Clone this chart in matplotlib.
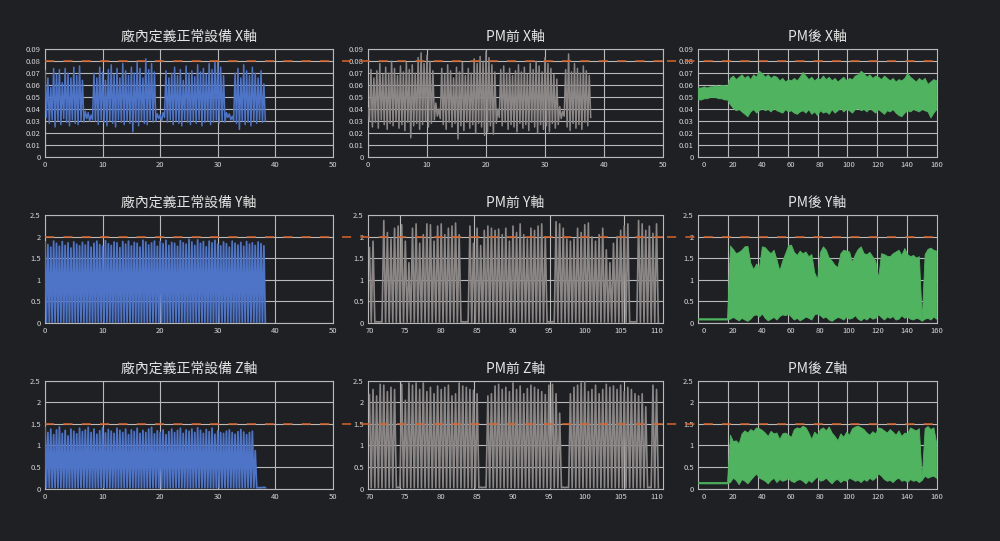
import numpy as np
import matplotlib
matplotlib.use("Agg")
import matplotlib.pyplot as plt
from matplotlib.ticker import FormatStrFormatter

plt.rcParams['font.family'] = ['Noto Sans CJK TC', 'DejaVu Sans']

# ---- data ----
# peaks (hi) and troughs (lo) every 0.5 s, starting at x = 0
normal_x_hi = [0.072, 0.066, 0.058, 0.074, 0.069, 0.073, 0.062, 0.074, 0.070, 0.066, 0.075, 0.068, 0.076, 0.064,
               0.038, 0.037, 0.035,
               0.070, 0.066, 0.075, 0.071, 0.064, 0.073, 0.077, 0.069, 0.074, 0.066, 0.078, 0.072, 0.068, 0.075,
               0.070, 0.079, 0.074, 0.066, 0.082, 0.073, 0.078, 0.071,
               0.036, 0.035, 0.037,
               0.072, 0.066, 0.070, 0.075, 0.068, 0.073, 0.064, 0.076, 0.070, 0.072, 0.067, 0.077, 0.071, 0.074,
               0.069, 0.078, 0.073, 0.080, 0.079, 0.075, 0.068,
               0.037, 0.036, 0.034,
               0.070, 0.074, 0.066, 0.077, 0.072, 0.068, 0.075, 0.070, 0.066, 0.072, 0.061]
normal_x_lo = [0.033, 0.028, 0.031, 0.025, 0.030, 0.027, 0.032, 0.029, 0.026, 0.031, 0.028, 0.027, 0.030, 0.029,
               0.032, 0.030, 0.031,
               0.030, 0.027, 0.031, 0.029, 0.026, 0.030, 0.028, 0.025, 0.031, 0.029, 0.027, 0.030, 0.028, 0.021,
               0.029, 0.026, 0.030, 0.028, 0.027, 0.031, 0.029, 0.030,
               0.032, 0.030, 0.033,
               0.029, 0.031, 0.027, 0.030, 0.028, 0.026, 0.031, 0.029, 0.027, 0.030, 0.028, 0.031, 0.026, 0.029,
               0.030, 0.027, 0.029, 0.031, 0.028, 0.030, 0.029,
               0.033, 0.031, 0.030,
               0.028, 0.023, 0.030, 0.027, 0.029, 0.026, 0.030, 0.028, 0.031, 0.029, 0.030]

pm_before_x_hi = [0.041, 0.073, 0.066, 0.072, 0.078, 0.069, 0.075, 0.070, 0.080, 0.074, 0.068, 0.076, 0.071, 0.079,
                  0.073, 0.077, 0.070, 0.083, 0.087, 0.078, 0.085, 0.080, 0.072,
                  0.045, 0.040,
                  0.074, 0.069, 0.077, 0.072, 0.066, 0.075, 0.071, 0.079, 0.068, 0.074, 0.070, 0.082, 0.078,
                  0.084, 0.080, 0.088, 0.083, 0.077, 0.071,
                  0.040,
                  0.073, 0.076, 0.070, 0.074, 0.068, 0.072, 0.077, 0.071, 0.075, 0.069, 0.078, 0.073, 0.080,
                  0.076, 0.071, 0.083, 0.078, 0.074, 0.069, 0.065,
                  0.042, 0.038,
                  0.073, 0.086, 0.071, 0.078, 0.074, 0.070, 0.076, 0.072, 0.068]
pm_before_x_lo = [0.030, 0.025, 0.029, 0.024, 0.031, 0.027, 0.023, 0.028, 0.026, 0.030, 0.024, 0.027, 0.022, 0.029,
                  0.016, 0.026, 0.028, 0.023, 0.027, 0.030, 0.025, 0.028, 0.031,
                  0.034, 0.032,
                  0.027, 0.023, 0.029, 0.025, 0.028, 0.015, 0.026, 0.022, 0.029, 0.024, 0.027, 0.020, 0.028,
                  0.025, 0.018, 0.021, 0.026, 0.019, 0.028,
                  0.033,
                  0.026, 0.029, 0.023, 0.027, 0.025, 0.021, 0.028, 0.024, 0.027, 0.022, 0.029, 0.025, 0.020,
                  0.027, 0.023, 0.026, 0.021, 0.028, 0.024, 0.027,
                  0.032, 0.034,
                  0.025, 0.022, 0.028, 0.024, 0.027, 0.023, 0.029, 0.026, 0.033]

# envelope every 2 s, starting at x = -4
pm_after_x_hi = [0.058, 0.058, 0.059, 0.058, 0.059, 0.059, 0.060, 0.059, 0.060, 0.060, 0.059,
                 0.066, 0.068, 0.065, 0.067, 0.069, 0.066, 0.068, 0.065, 0.069, 0.067, 0.072,
                 0.070, 0.067, 0.069, 0.066, 0.068, 0.067, 0.064, 0.066, 0.063, 0.065, 0.064,
                 0.066, 0.064, 0.067, 0.071, 0.068, 0.065, 0.067, 0.064, 0.066, 0.065, 0.068,
                 0.065, 0.067, 0.064, 0.066, 0.063, 0.065, 0.067, 0.064, 0.066, 0.065, 0.068,
                 0.069, 0.072, 0.070, 0.067, 0.069, 0.066, 0.068, 0.067, 0.065, 0.068, 0.066,
                 0.064, 0.066, 0.063, 0.065, 0.064, 0.066, 0.070, 0.067, 0.065, 0.063, 0.066,
                 0.064, 0.066, 0.061, 0.063, 0.065, 0.064]
pm_after_x_lo = [0.048, 0.048, 0.049, 0.049, 0.050, 0.050, 0.050, 0.049, 0.049, 0.048, 0.048,
                 0.044, 0.041, 0.039, 0.040, 0.038, 0.036, 0.034, 0.038, 0.040, 0.037, 0.039,
                 0.041, 0.039, 0.040, 0.038, 0.041, 0.039, 0.038, 0.037, 0.040, 0.038, 0.039,
                 0.037, 0.036, 0.038, 0.039, 0.037, 0.040, 0.036, 0.038, 0.035, 0.039, 0.037,
                 0.038, 0.036, 0.040, 0.037, 0.039, 0.041, 0.038, 0.040, 0.039, 0.037, 0.040,
                 0.041, 0.039, 0.040, 0.038, 0.041, 0.039, 0.037, 0.040, 0.038, 0.036, 0.039,
                 0.038, 0.040, 0.037, 0.035, 0.034, 0.037, 0.039, 0.038, 0.040, 0.039, 0.038,
                 0.040, 0.039, 0.038, 0.033, 0.037, 0.040]

# Y axis: peaks every 0.5 s, troughs sit near zero
normal_y_hi = [1.88, 1.82, 1.76, 1.90, 1.85, 1.78, 1.89, 1.80, 1.86, 1.74, 1.88, 1.83, 1.79, 1.87, 1.81, 1.89,
               1.76, 1.85, 1.90, 1.82, 1.78, 1.91, 1.84, 1.80, 1.88, 1.86, 1.75, 1.89, 1.83, 1.90, 1.79, 1.87,
               1.85, 1.76, 1.92, 1.88, 1.81, 1.86, 1.90, 1.78, 1.89, 1.84, 1.92, 1.80, 1.87, 1.85, 1.78, 1.91,
               1.86, 1.83, 1.94, 1.88, 1.80, 1.93, 1.85, 1.89, 1.77, 1.90, 1.86, 1.92, 1.83, 1.79, 1.88, 1.84,
               1.76, 1.90, 1.85, 1.81, 1.87, 1.78, 1.89, 1.83, 1.86, 1.80, 1.88, 1.84, 1.79]
normal_y_floor = 0.02

pm_before_y_hi = [1.75, 1.90, 0.03, 0.03, 2.38, 2.10, 1.95, 2.20, 2.25, 2.28, 1.90, 1.40, 2.20, 2.30, 1.85, 2.05,
                  2.30, 2.28, 1.90, 2.25, 2.30, 2.05, 2.20, 2.25, 2.32, 2.05, 0.03, 0.03, 2.25, 1.85, 2.20, 1.80,
                  2.15, 2.25, 2.20, 2.15, 2.18, 2.05, 2.20, 1.90, 2.25, 2.10, 2.30, 2.05, 1.95, 2.20, 2.15, 2.25,
                  2.30, 2.00, 0.03, 0.03, 2.35, 2.30, 2.20, 1.95, 1.90, 1.95, 2.20, 2.10, 2.28, 2.32, 2.00, 1.90,
                  2.05, 2.20, 1.70, 1.40, 1.85, 2.00, 2.15, 2.25, 2.30, 0.03, 0.03, 2.38, 2.30, 2.15, 2.25, 2.08,
                  2.30]
pm_before_y_floor = 0.02

pm_after_y_hi = [0.11, 0.11, 0.11, 0.11, 0.11, 0.11, 0.11, 0.11, 0.11, 0.11, 0.11,
                 1.80, 1.72, 1.62, 1.65, 1.70, 1.78, 1.79, 1.40, 1.25, 1.38, 1.30,
                 1.78, 1.76, 1.68, 1.62, 1.70, 1.48, 1.22, 1.45, 1.62, 1.80, 1.82,
                 1.65, 1.58, 1.68, 1.62, 1.66, 1.55, 1.60, 1.18, 1.02, 1.65, 1.78,
                 1.70, 1.52, 1.45, 1.35, 1.30, 1.62, 1.70, 1.68, 1.66, 1.42, 1.60,
                 1.72, 1.78, 1.62, 1.60, 1.65, 1.55, 1.45, 1.05, 1.62, 1.60, 1.56,
                 1.55, 1.62, 1.66, 1.70, 1.58, 1.74, 1.60, 1.55, 1.58, 1.52, 1.55,
                 0.10, 1.60, 1.72, 1.75, 1.70, 1.68]
pm_after_y_lo = [0.08, 0.08, 0.08, 0.08, 0.08, 0.08, 0.08, 0.08, 0.08, 0.08, 0.08,
                 0.10, 0.14, 0.10, 0.06, 0.12, 0.08, 0.05, 0.10, 0.18, 0.20, 0.15,
                 0.22, 0.12, 0.06, 0.10, 0.14, 0.08, 0.16, 0.20, 0.18, 0.22, 0.15,
                 0.08, 0.12, 0.06, 0.10, 0.15, 0.12, 0.08, 0.20, 0.22, 0.18, 0.12,
                 0.15, 0.08, 0.05, 0.10, 0.14, 0.12, 0.08, 0.15, 0.10, 0.12, 0.18,
                 0.10, 0.06, 0.12, 0.08, 0.15, 0.10, 0.12, 0.20, 0.14, 0.08, 0.15,
                 0.12, 0.16, 0.08, 0.10, 0.18, 0.12, 0.15, 0.10, 0.08, 0.12, 0.10,
                 0.05, 0.10, 0.12, 0.08, 0.15, 0.10]

# Z axis
normal_z_hi = [1.42, 1.30, 1.38, 1.25, 1.36, 1.43, 1.28, 1.35, 1.22, 1.38, 1.33, 1.27, 1.40, 1.32, 1.36, 1.42,
               1.30, 1.38, 1.26, 1.34, 1.41, 1.29, 1.37, 1.33, 1.28, 1.40, 1.35, 1.30, 1.38, 1.25, 1.36, 1.32,
               1.40, 1.28, 1.35, 1.30, 1.38, 1.42, 1.27, 1.34, 1.30, 1.36, 1.25, 1.32, 1.38, 1.30, 1.35, 1.40,
               1.28, 1.36, 1.33, 1.38, 1.30, 1.41, 1.35, 1.28, 1.37, 1.32, 1.40, 1.26, 1.34, 1.30, 1.28, 1.33,
               1.36, 1.30, 1.26, 1.32, 1.37, 1.31, 1.25, 1.30, 1.33, 0.88, 0.02, 0.02, 0.03]
normal_z_floor = 0.02

pm_before_z_hi = [2.18, 2.30, 2.15, 2.42, 2.40, 2.25, 2.35, 2.30, 0.03, 2.42, 2.05, 2.45, 2.40, 2.45, 2.30, 2.45,
                  2.25, 2.35, 2.20, 2.38, 2.30, 2.35, 2.40, 2.15, 2.20, 2.45, 2.38, 2.35, 2.30, 2.28, 2.20, 0.03,
                  0.03, 2.15, 2.20, 2.38, 2.42, 2.30, 2.35, 2.25, 2.45, 2.30, 2.38, 2.20, 2.32, 2.40, 2.35, 2.30,
                  2.25, 2.18, 2.40, 2.42, 2.20, 1.75, 0.03, 0.03, 2.20, 2.35, 2.40, 2.45, 2.48, 2.25, 2.30, 2.40,
                  2.20, 2.30, 2.42, 2.35, 2.38, 2.30, 2.40, 2.25, 2.35, 2.30, 2.20, 2.15, 2.20, 1.90, 0.03, 2.40,
                  2.30]
pm_before_z_floor = 0.02

pm_after_z_hi = [0.15, 0.15, 0.15, 0.15, 0.15, 0.15, 0.15, 0.15, 0.15, 0.15, 0.15,
                 1.25, 1.10, 1.12, 1.05, 1.28, 1.35, 1.30, 1.38, 1.34, 1.42, 1.40,
                 1.36, 1.30, 1.22, 1.34, 1.28, 1.30, 1.15, 1.28, 1.30, 1.25, 1.20,
                 1.38, 1.42, 1.40, 1.46, 1.42, 1.30, 1.15, 1.32, 1.25, 1.38, 1.42,
                 1.35, 1.44, 1.30, 1.22, 1.12, 1.28, 1.20, 1.32, 1.25, 1.40, 1.44,
                 1.46, 1.42, 1.38, 1.30, 1.25, 1.33, 1.28, 1.42, 1.40, 1.35, 1.30,
                 1.38, 1.32, 1.25, 1.35, 1.22, 1.30, 1.28, 1.42, 1.38, 1.35, 1.40,
                 0.25, 1.40, 1.45, 1.38, 1.42, 1.05]
pm_after_z_lo = [0.12, 0.12, 0.12, 0.12, 0.12, 0.12, 0.12, 0.12, 0.12, 0.12, 0.12,
                 0.15, 0.25, 0.20, 0.10, 0.22, 0.18, 0.12, 0.20, 0.28, 0.35, 0.25,
                 0.22, 0.18, 0.12, 0.20, 0.25, 0.15, 0.22, 0.18, 0.20, 0.25, 0.18,
                 0.15, 0.20, 0.22, 0.18, 0.12, 0.20, 0.15, 0.22, 0.28, 0.18, 0.20,
                 0.25, 0.18, 0.12, 0.20, 0.22, 0.15, 0.20, 0.18, 0.25, 0.22, 0.18,
                 0.20, 0.15, 0.22, 0.18, 0.25, 0.20, 0.25, 0.35, 0.30, 0.22, 0.18,
                 0.20, 0.15, 0.22, 0.25, 0.18, 0.20, 0.15, 0.22, 0.18, 0.20, 0.15,
                 0.20, 0.30, 0.25, 0.28, 0.30, 0.25]

titles = [["廠內定義正常設備 X軸", "PM前 X軸", "PM後 X軸"],
          ["廠內定義正常設備 Y軸", "PM前 Y軸", "PM後 Y軸"],
          ["廠內定義正常設備 Z軸", "PM前 Z軸", "PM後 Z軸"]]
limits = [0.08, 2.0, 1.5]

BG = '#1e2023'
GRID = '#b9b9b9'
TXT = '#d6d6d6'
BLUE = '#4e74c8'
GRAY = '#8c8787'
GREEN = '#4fb35f'
ORANGE = '#d8652c'


def zigzag(ax, x0, step, hi, lo, color, lw):
    hi = np.asarray(hi, dtype=float)
    lo = np.broadcast_to(np.asarray(lo, dtype=float), hi.shape)
    xs = x0 + np.arange(len(hi)) * step
    x = np.column_stack((xs, xs + step / 2)).ravel()
    y = np.column_stack((hi, lo)).ravel()
    ax.plot(x, y, color=color, lw=lw, zorder=3)


def band(ax, x0, step, hi, lo, color):
    xs = x0 + np.arange(len(hi)) * step
    ax.fill_between(xs, lo, hi, color=color, lw=0.6, edgecolor=color, zorder=3)


fig = plt.figure(figsize=(10, 5.41), dpi=100, facecolor=BG)
lefts = [0.045, 0.368, 0.698]
widths = [0.288, 0.295, 0.239]
bottoms = [0.710, 0.403, 0.097]
height = 0.199

axes = [[fig.add_axes([lefts[c], bottoms[r], widths[c], height]) for c in range(3)] for r in range(3)]

zigzag(axes[0][0], 0, 0.5, normal_x_hi, normal_x_lo, BLUE, 1.1)
zigzag(axes[0][1], 0, 0.5, pm_before_x_hi, pm_before_x_lo, GRAY, 1.1)
band(axes[0][2], -4, 2, pm_after_x_hi, pm_after_x_lo, GREEN)
zigzag(axes[1][0], 0, 0.5, normal_y_hi, normal_y_floor, BLUE, 1.3)
zigzag(axes[1][1], 70, 0.5, pm_before_y_hi, pm_before_y_floor, GRAY, 1.2)
band(axes[1][2], -4, 2, pm_after_y_hi, pm_after_y_lo, GREEN)
zigzag(axes[2][0], 0, 0.5, normal_z_hi, normal_z_floor, BLUE, 1.3)
zigzag(axes[2][1], 70, 0.5, pm_before_z_hi, pm_before_z_floor, GRAY, 1.2)
band(axes[2][2], -4, 2, pm_after_z_hi, pm_after_z_lo, GREEN)

for r in range(3):
    for c in range(3):
        ax = axes[r][c]
        ax.set_facecolor(BG)
        for s in ax.spines.values():
            s.set_color(GRID)
            s.set_linewidth(0.8)
        if r == 0:
            ax.set_ylim(0, 0.09)
            ax.set_yticks(np.arange(0, 0.0901, 0.01))
        else:
            ax.set_ylim(0, 2.5)
            ax.set_yticks(np.arange(0, 2.51, 0.5))
        ax.yaxis.set_major_formatter(FormatStrFormatter('%g'))
        ax.grid(axis='y', color=GRID, lw=0.8, zorder=1)

        if c == 0 or (c == 1 and r == 0):
            ax.set_xlim(0, 50)
            ax.set_xticks(range(0, 51, 10))
            ax.grid(axis='x', color=GRID, lw=0.8, zorder=1)
        elif c == 1:
            ax.set_xlim(69.8, 110.9)
            ax.set_xticks(range(70, 111, 5))
            for gx in [74.2, 84.6, 95.1, 105.5]:
                ax.axvline(gx, color=GRID, lw=0.8, zorder=1)
        else:
            ax.set_xlim(-4, 160.5)
            ax.set_xticks(range(0, 161, 20))
            for gx in np.linspace(-4, 160.5, 9)[1:-1]:
                ax.axvline(gx, color=GRID, lw=0.8, zorder=1)

        ax.tick_params(length=0, labelsize=5.5, labelcolor=TXT, pad=3)
        ax.set_title(titles[r][c], color='#e4e4e4', fontsize=10, pad=6)

        if c == 0:
            xmin, xmax = 0, 1
        elif c == 1:
            xmin, xmax = -0.088, 1.02
        else:
            xmin, xmax = -0.13, 1.0
        ax.axhline(limits[r], xmin=xmin, xmax=xmax, color=ORANGE, lw=1.1,
                   dashes=(6, 6), clip_on=False, zorder=5)

fig.savefig('out.png', dpi=100, facecolor=BG)
